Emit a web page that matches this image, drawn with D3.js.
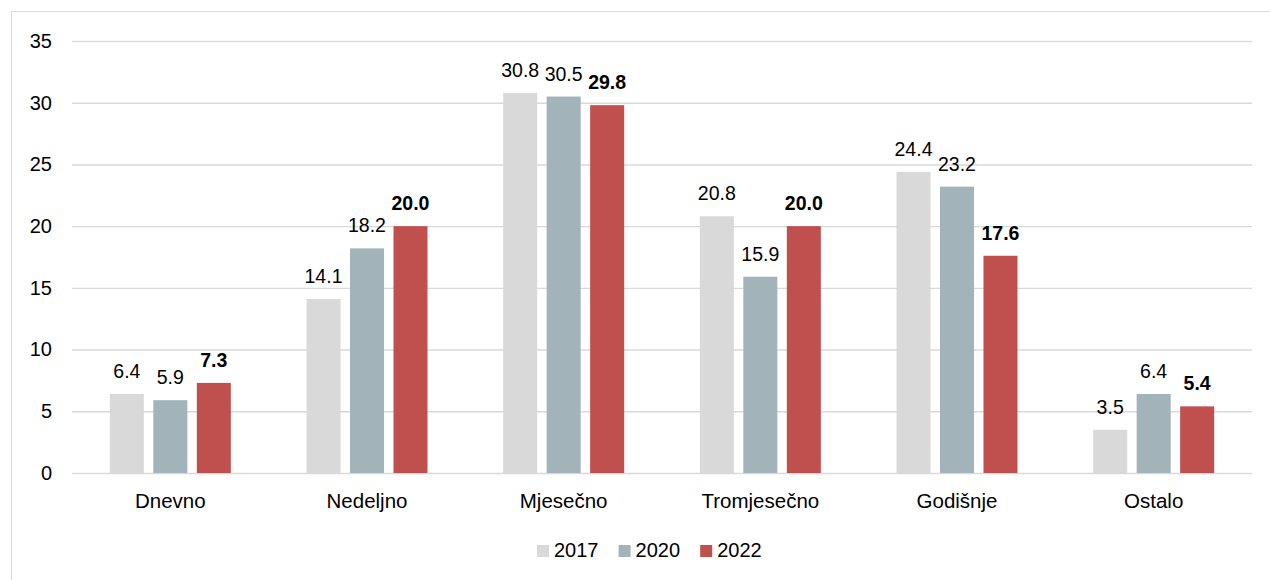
<!DOCTYPE html>
<html>
<head>
<meta charset="utf-8">
<script src="https://cdn.jsdelivr.net/npm/d3@7"></script>
<style>
  body { margin: 0; background: #fff; }
  svg { display: block; font-family: "Liberation Sans", Arial, sans-serif; }
</style>
</head>
<body>
<svg class="Chart"></svg>
<script>
// data
const categories = ["Dnevno", "Nedeljno", "Mjesečno", "Tromjesečno", "Godišnje", "Ostalo"];
const years = ["2017", "2020", "2022"];
const values2017 = [6.4, 14.1, 30.8, 20.8, 24.4, 3.5];
const values2020 = [5.9, 18.2, 30.5, 15.9, 23.2, 6.4];
const values2022 = [7.3, 20.0, 29.8, 20.0, 17.6, 5.4];
const yTicks = [0, 5, 10, 15, 20, 25, 30, 35];

const colors = { "2017": "#d9d9d9", "2020": "#a2b4ba", "2022": "#c0504d" };

function drawChart() {
    let width = 1270, height = 580;
    let margin = {top: 41, right: 18, bottom: 107, left: 72};

    let svg = d3.select(".Chart")
        .attr("width", width)
        .attr("height", height);

    // chart frame (runs off the right and bottom edge)
    svg.append("rect")
        .attr("x", 11.5).attr("y", 11.5)
        .attr("width", 1300).attr("height", 600)
        .attr("fill", "none")
        .attr("stroke", "#d9d9d9")
        .attr("stroke-width", 1);

    let series = [values2017, values2020, values2022];
    let rows = categories.map((c, i) => ({
        name: c,
        vals: years.map((y, j) => ({year: y, value: series[j][i]}))
    }));

    let x0 = d3.scaleBand()
        .domain(categories)
        .range([margin.left, width - margin.right]);
    let groupW = 121;
    let x1 = d3.scaleBand()
        .domain(years)
        .range([(x0.bandwidth() - groupW) / 2, (x0.bandwidth() + groupW) / 2])
        .paddingInner(0.218);
    let y = d3.scaleLinear()
        .domain([0, 35])
        .range([height - margin.bottom, margin.top]);

    // gridlines + y labels
    let yAxis = d3.axisLeft(y)
        .tickValues(yTicks)
        .tickSize(-(width - margin.left - margin.right))
        .tickPadding(20);
    let gy = svg.append("g")
        .attr("transform", `translate(${margin.left},0)`)
        .call(yAxis);
    gy.select(".domain").remove();
    gy.selectAll(".tick line")
        .attr("stroke", "#d9d9d9")
        .attr("stroke-width", 1.4);
    gy.selectAll(".tick text")
        .attr("font-size", 20)
        .attr("fill", "#000")
        .attr("font-family", "Liberation Sans, Arial, sans-serif");

    // bars
    let group = svg.append("g").selectAll("g")
        .data(rows)
        .join("g")
        .attr("transform", d => `translate(${x0(d.name)},0)`);

    group.selectAll("rect")
        .data(d => d.vals)
        .join("rect")
        .attr("x", d => x1(d.year))
        .attr("y", d => y(d.value))
        .attr("width", x1.bandwidth())
        .attr("height", d => y(0) - y(d.value))
        .attr("fill", d => colors[d.year]);

    group.selectAll("text")
        .data(d => d.vals)
        .join("text")
        .attr("x", d => x1(d.year) + x1.bandwidth() / 2)
        .attr("y", d => y(d.value) - 16)
        .attr("text-anchor", "middle")
        .attr("font-size", 19.5)
        .attr("font-weight", d => d.year === "2022" ? "bold" : "normal")
        .attr("fill", "#000")
        .text(d => d.value.toFixed(1));

    // category labels
    svg.append("g").selectAll("text")
        .data(categories)
        .join("text")
        .attr("x", d => x0(d) + x0.bandwidth() / 2)
        .attr("y", 508)
        .attr("text-anchor", "middle")
        .attr("font-size", 20.5)
        .attr("fill", "#000")
        .text(d => d);

    // legend
    let legend = svg.append("g")
        .attr("transform", "translate(537,0)");
    let item = legend.selectAll("g")
        .data(years)
        .join("g")
        .attr("transform", (d, i) => `translate(${i * 81.6},0)`);
    item.append("rect")
        .attr("x", 0).attr("y", 545)
        .attr("width", 12).attr("height", 12)
        .attr("fill", d => colors[d]);
    item.append("text")
        .attr("x", 17).attr("y", 557)
        .attr("font-size", 20)
        .attr("fill", "#000")
        .text(d => d);
}

drawChart();
</script>
</body>
</html>
